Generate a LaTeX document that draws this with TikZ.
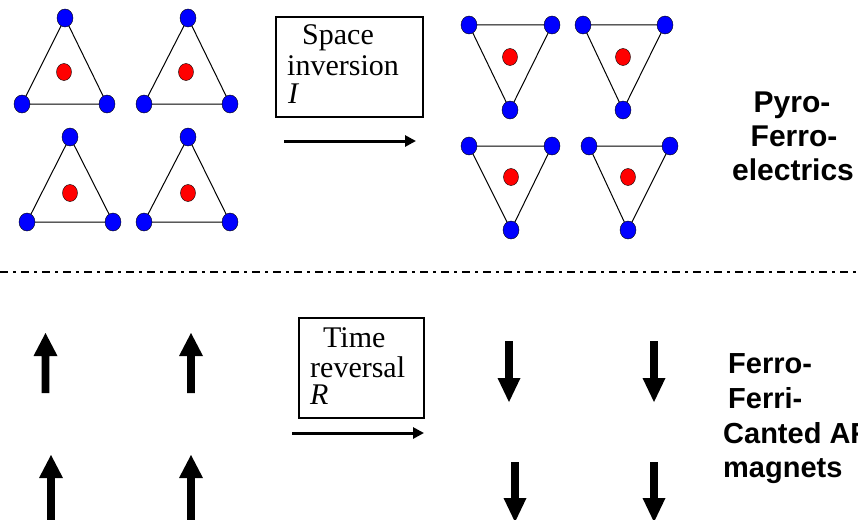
\documentclass[tikz,border=0pt]{standalone}
\usepackage{fontspec}
\setmainfont{Liberation Serif}
\newfontfamily\hv{Liberation Sans}
\usetikzlibrary{shapes.geometric,arrows.meta}
\begin{document}
\begin{tikzpicture}[x=1pt,y=-1pt,
  blueat/.style={ellipse,draw=black,line width=0.4pt,fill=blue,minimum width=16pt,minimum height=18pt,inner sep=0pt},
  redat/.style={ellipse,draw=black,line width=0.4pt,fill=red,minimum width=15pt,minimum height=17pt,inner sep=0pt},
  bond/.style={draw=black,line width=1pt},
  opbox/.style={draw=black,line width=1.5pt,inner sep=0pt},
  optext/.style={anchor=base west,inner sep=0pt,font=\fontsize{30}{30}\selectfont},
  lbl/.style={anchor=base,inner sep=0pt,font=\hv\bfseries\fontsize{30}{34}\selectfont},
  lblw/.style={anchor=base west,inner sep=0pt,font=\hv\bfseries\fontsize{29}{34}\selectfont},
  oparrow/.style={line width=3pt,-{Triangle[length=11pt,width=11pt]}},
  spin/.style={fill=black,draw=none}]
\clip (0,0) rectangle (858,519);
\fill[white] (0,0) rectangle (858,519);
% triangles
\foreach \n/\ax/\ay/\bx/\by/\cx/\cy/\rx/\ry in {
  t1/65/18/22/104/107/104/64/72,
  t2/188/18/144/104/230/104/186/72,
  t3/70/137/27/222/113/222/70/193,
  t4/188/137/144/222/230/222/188/193,
  t5/469/25/552/25/510/110/510/57,
  t6/583/25/665/25/623/110/623/57,
  t7/469/146/552/146/511/230/511/177,
  t8/589/146/670/146/628/230/628/177}{
  \coordinate (\n pa) at (\ax,\ay);
  \coordinate (\n pb) at (\bx,\by);
  \coordinate (\n pc) at (\cx,\cy);
  \draw[bond] (\n pa) -- (\n pb) -- (\n pc) -- cycle;
  \node[blueat] (\n a) at (\n pa) {};
  \node[blueat] (\n b) at (\n pb) {};
  \node[blueat] (\n c) at (\n pc) {};
  \node[redat] (\n r) at (\rx,\ry) {};
}
% space inversion box
\node[opbox,minimum width=147pt,minimum height=100pt] (box1) at (349.5,67) {};
\node[optext] (s1) at (302,45) {Space};
\node[optext] (s2) at (287,75) {inversion};
\node[optext] (s3) at (288,103) {\itshape I};
\coordinate (a1s) at (284,141);
\coordinate (a1e) at (416,141);
\draw[oparrow] (a1s) -- (a1e);
\node[lbl] (p1) at (792,112) {Pyro-};
\node[lbl] (p2) at (794,146) {Ferro-};
\node[lbl] (p3) at (793,180) {electrics};
% divider
\coordinate (dl) at (0,272);
\coordinate (dr) at (858,272);
\draw[line width=1.8pt,dash pattern=on 8pt off 5pt on 2.5pt off 5.5pt] (dl) -- (dr);
% time reversal box
\node[opbox,minimum width=125pt,minimum height=100pt] (box2) at (361.5,368) {};
\node[optext] (r1) at (323,347) {Time};
\node[optext] (r2) at (310,377) {reversal};
\node[optext] (r3) at (310,404) {\itshape R};
\coordinate (a2s) at (292,433);
\coordinate (a2e) at (424,433);
\draw[oparrow] (a2s) -- (a2e);
% spins up
\foreach \x/\t/\b in {45.5/333/393, 191/333/393, 51/455/540, 191/455/540}{
  \fill[spin] (\x-3.8,\b) -- (\x-3.8,\t+23) -- (\x-12,\t+23) -- (\x,\t) -- (\x+12,\t+23) -- (\x+3.8,\t+23) -- (\x+3.8,\b) -- cycle;
}
% spins down
\foreach \x/\t/\h in {509/341/378, 654/341/378, 515/462/498, 654/462/498}{
  \fill[spin] (\x-3.8,\t) -- (\x-3.8,\h) -- (\x-11.5,\h) -- (\x,\h+24) -- (\x+11.5,\h) -- (\x+3.8,\h) -- (\x+3.8,\t) -- cycle;
}
\node[lblw] (m1) at (728,373) {Ferro-};
\node[lblw] (m2) at (728,408) {Ferri-};
\node[lblw] (m3) at (723,443) {Canted AF};
\node[lblw] (m4) at (723,477) {magnets};
\end{tikzpicture}
\end{document}
